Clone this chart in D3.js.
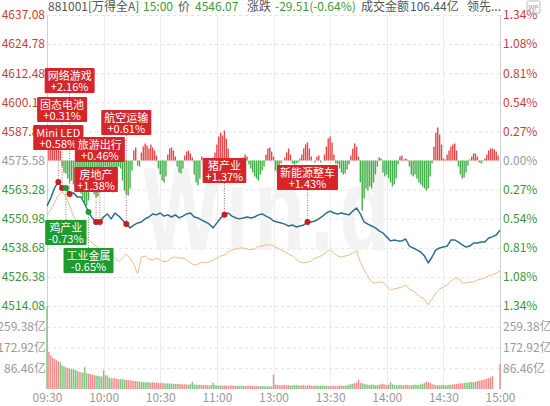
<!DOCTYPE html>
<html>
<head>
<meta charset="utf-8">
<script src="https://cdn.jsdelivr.net/npm/d3@7"></script>
<style>
  body { margin: 0; background: #fff; }
  svg text { font-family: "Noto Sans CJK SC", "Noto Sans", sans-serif; }
</style>
</head>
<body>
<svg id="chart" width="550" height="406"></svg>
<script>
// ---- data ----
var preClose = 4575.58;
var priceTicks = [4637.08, 4624.78, 4612.48, 4600.18, 4587.88, 4575.58, 4563.28, 4550.98, 4538.68, 4526.38, 4514.08];
var pctLabels = ["1.34%", "1.08%", "0.81%", "0.54%", "0.27%", "0.00%", "0.27%", "0.54%", "0.81%", "1.08%", "1.34%"];
var volTicks = [86.46, 172.92, 259.38];
var timeTicks = [0, 30, 60, 90, 120, 150, 180, 210, 240];
var timeLabels = ["09:30", "10:00", "10:30", "11:00", "13:00", "13:30", "14:00", "14:30", "15:00"];

// index price, one value every 2 minutes from 09:30
var price = [
  4556.4,4559.7,4564.0,4566.5,4564.0,4564.0,4561.4,4561.9,4560.2,4560.2,
  4557.2,4553.8,4551.3,4549.6,4549.6,4551.7,4553.0,4550.9,4553.4,4552.1,
  4550.4,4548.7,4547.1,4548.3,4549.2,4549.6,4550.9,4551.7,4553.0,4552.6,
  4553.4,4552.1,4552.6,4551.7,4552.6,4551.3,4552.1,4553.0,4553.4,4551.7,
  4551.3,4550.4,4549.6,4548.7,4547.1,4549.2,4551.3,4552.6,4553.4,4552.1,
  4551.3,4550.9,4551.3,4551.7,4551.3,4551.7,4552.6,4553.0,4552.1,4551.3,
  4550.0,4549.6,4549.2,4548.7,4547.9,4548.3,4547.5,4547.9,4548.3,4549.6,
  4549.6,4550.0,4550.9,4552.1,4553.4,4554.2,4553.4,4553.0,4553.4,4553.0,
  4552.6,4554.2,4555.5,4553.0,4549.6,4548.7,4547.9,4547.1,4545.8,4544.9,
  4543.3,4541.6,4542.0,4541.6,4541.6,4542.4,4539.4,4538.6,4537.8,4536.9,
  4535.2,4532.3,4534.8,4537.8,4538.6,4539.0,4539.4,4542.0,4542.0,4541.1,
  4539.9,4539.0,4539.4,4540.7,4540.7,4541.1,4541.1,4542.8,4543.3,4544.1,
  4546.07
];

// leading line (orange), one value every 2 minutes
var lead = [
  4552.5,4554.7,4557.6,4561.0,4562.3,4560.6,4556.4,4552.1,4549.6,4546.2,
  4543.7,4542.0,4540.7,4539.4,4538.2,4536.9,4536.1,4535.2,4534.4,4532.7,
  4534.4,4536.1,4534.4,4531.8,4527.6,4534.8,4535.2,4533.9,4533.5,4534.4,
  4533.5,4532.7,4533.1,4534.4,4534.8,4534.4,4534.4,4533.5,4532.3,4531.4,
  4531.8,4532.7,4532.3,4532.7,4533.5,4534.4,4535.2,4535.6,4536.9,4537.8,
  4538.2,4538.6,4538.6,4538.2,4537.8,4538.2,4539.4,4539.4,4539.9,4539.9,
  4539.4,4538.6,4537.8,4536.9,4536.1,4535.2,4533.9,4532.7,4532.3,4532.7,
  4533.1,4534.4,4534.8,4535.6,4536.9,4537.8,4536.5,4535.2,4534.8,4535.2,
  4535.6,4536.5,4537.3,4532.7,4529.3,4526.8,4524.2,4523.8,4524.2,4524.2,
  4522.5,4520.8,4521.3,4521.7,4522.1,4523.0,4521.3,4520.4,4519.2,4517.9,
  4517.0,4514.5,4517.0,4519.6,4521.3,4522.1,4523.0,4524.7,4525.9,4525.9,
  4523.8,4523.8,4524.2,4524.2,4525.1,4525.5,4525.9,4526.8,4527.2,4528.0,
  4528.9
];

// red / green strength bars around the zero line, one per minute
var flow = [
  0,12,14,14,13,12,12,10,-6,-12,
  -13,-18,-22,-20,-24,-28,-30,-28,-33,-38,
  -42,-45,-40,-30,-30,-34,-37,-36,-30,-18,
  -10,-6,-14,-24,-30,-32,-26,-12,-6,-8,
  -20,-30,-34,-35,-28,-10,10,13,-5,-6,
  8,14,17,15,12,16,13,10,5,-8,
  -14,-20,-22,-16,6,12,13,10,4,-6,
  -12,-13,-8,5,9,10,7,3,-14,-22,
  -25,-18,4,-6,-8,-10,-8,-4,3,8,
  16,24,28,25,30,22,12,-2,-3,-2,
  0,2,0,0,3,6,4,-4,-8,-12,
  -16,-18,-20,-14,-10,-6,6,12,13,9,
  4,-10,-12,-8,-3,0,3,8,12,6,
  -3,-4,-3,-2,2,6,12,16,18,12,
  4,0,-2,4,5,-2,0,6,14,22,
  24,18,6,-3,-4,-8,-12,-14,-13,-9,
  -4,5,12,17,14,4,-22,-50,-38,-28,
  -30,-26,-28,-22,-14,-6,3,2,-12,-16,
  -14,-18,-22,-26,-24,-18,-4,4,5,1,
  2,1,-6,-14,-16,-14,-18,-22,-24,-26,
  -28,-30,-28,-16,-3,14,28,33,26,16,
  2,1,6,10,14,16,17,10,-6,-14,
  -18,-17,-12,-5,1,4,7,7,4,-2,
  -3,-1,2,6,10,12,12,11,9,5,
  0
];

// turnover per minute, 亿
var volume = [
  345,155,140,130,125,120,115,112,98,95,
  90,88,85,84,82,80,76,72,70,68,
  91,66,64,62,60,58,56,55,53,52,
  78,58,56,47,45,44,46,42,41,40,
  42,39,38,37,36,35,34,33,32,30,
  30,29,28,29,28,27,28,26,27,26,
  25,26,24,23,24,22,23,22,21,22,
  21,20,19,20,19,18,20,30,19,18,
  17,18,17,16,17,16,15,16,26,16,
  15,14,15,14,15,14,13,14,15,14,
  13,14,13,14,13,12,13,14,13,12,
  13,12,11,12,13,12,11,12,10,11,
  60,18,18,16,15,16,17,15,16,14,
  15,16,17,15,14,16,15,14,15,16,
  14,13,15,14,13,14,15,13,14,13,
  12,14,13,12,13,14,15,13,14,16,
  18,20,22,24,26,39,26,24,22,20,
  18,17,19,18,17,16,18,20,22,19,
  17,18,30,20,17,16,15,17,16,15,
  18,17,16,15,17,18,16,17,19,22,
  24,30,28,26,20,18,17,16,15,17,
  16,15,16,18,17,19,20,21,22,24,
  23,25,26,27,28,29,28,30,33,35,
  36,38,40,43,45,48,54,0,0,0,
  104
];
// r = up minute, g = down minute
var volSide =
  "grrrrrrggg" + "rrgggggrrg" + "ggrrrrgggg" + "rrgggrrrrg" + "ggrrrrrrrg" + "gggggrrrrr" +
  "rrgggggggg" + "rrrrrggggg" + "grrrrrrggg" + "gggrrrrrrr" + "gggggrrrrr" + "rrrggggggr" +
  "rgrrrrrrrg" + "ggggrrrrrr" + "rrrggggggr" + "rrrrrrrggg" + "gggrrrrggg" + "gggggggrrr" +
  "rrggggggrr" + "rrrrgggggg" + "grrrrrrggg" + "gggggrrrrr" + "rggggggrrr" + "rrrrrrrrrr" + "r";

// sector tags on the price line
var tagNames = ["网络游戏", "固态电池", "Mini LED", "航空运输", "旅游出行", "房地产", "猪产业", "新能源整车", "鸡产业", "工业金属"];
var tagPcts = ["+2.16%", "+0.31%", "+0.58%", "+0.61%", "+0.46%", "+1.38%", "+1.37%", "+1.43%", "-0.73%", "-0.65%"];
var tagMinutes = [12, 8, 6, 42, 28, 26, 94, 138, 10, 22];

var header = [
  ["881001[万得全A]", "#555", 48], ["15:00", "#3d9a3d", 143], ["价", "#555", 178],
  ["4546.07", "#3d9a3d", 195], ["涨跌", "#555", 247], ["-29.51(-0.64%)", "#3d9a3d", 275],
  ["成交金额", "#555", 361], ["106.44亿", "#555", 410], ["领先...", "#555", 467]
];

// ---- layout ----
var tagTop = [68, 97, 125, 110, 137, 167, 158, 165, 220, 248];
var RED = "#c8403c", GREEN = "#3a963a", GRAY = "#9a9a9a";

var svg = d3.select("#chart");

var x = d3.scaleLinear().domain([0, 240]).range([47, 500]);
var y = d3.scaleLinear().domain([4514.08, 4637.08]).range([306, 15]);
var v = d3.scaleLinear().domain([0, 345.84]).range([389, 306]);
var y0 = y(preClose);
var flowY = d3.scaleLinear().domain([-50, 50]).range([y0 + 50, y0 - 50]);

// grid
var grid = svg.append("g");
grid.selectAll(".hg").data(priceTicks).enter().append("line")
  .attr("x1", 47).attr("x2", 500)
  .attr("y1", d => y(d) + 0.5).attr("y2", d => y(d) + 0.5)
  .attr("stroke", "#e2e2e2").attr("stroke-dasharray", "3,3");
grid.selectAll(".vg").data(volTicks).enter().append("line")
  .attr("x1", 47).attr("x2", 500)
  .attr("y1", d => v(d) + 0.5).attr("y2", d => v(d) + 0.5)
  .attr("stroke", "#e2e2e2").attr("stroke-dasharray", "3,3");
grid.selectAll(".tg").data(timeTicks).enter().append("line")
  .attr("x1", d => Math.round(x(d)) + 0.5).attr("x2", d => Math.round(x(d)) + 0.5)
  .attr("y1", 15).attr("y2", 389)
  .attr("stroke", d => (d === 0 || d === 240) ? "#d0d0d0" : "#ececec");

// watermark
svg.append("text")
  .attr("transform", "translate(143,250) scale(1,1.45)")
  .attr("font-size", 82).attr("font-weight", "bold")
  .style("font-family", "'Liberation Sans', Arial, sans-serif")
  .attr("fill", "#f3f3f3").attr("letter-spacing", 6)
  .text("Win.d");

// strength bars
svg.append("g").selectAll("rect").data(flow).enter().append("rect")
  .attr("x", (d, i) => x(i) - 0.7)
  .attr("width", 1.4)
  .attr("y", d => Math.min(flowY(d), y0))
  .attr("height", d => Math.abs(flowY(d) - y0))
  .attr("fill", d => d >= 0 ? "#e04a4a" : "#45b04a");

// volume bars
svg.append("g").selectAll("rect").data(volume).enter().append("rect")
  .attr("x", (d, i) => x(i) - 0.7)
  .attr("width", 1.4)
  .attr("y", d => v(d))
  .attr("height", d => v(0) - v(d))
  .attr("fill", (d, i) => volSide[i] === "g" ? "#7cc67c" : "#f08c8c");

// lines
var line = d3.line().x((d, i) => x(i * 2)).y(d => y(d));
svg.append("path").datum(lead).attr("d", line)
  .attr("fill", "none").attr("stroke", "#f0bc88").attr("stroke-width", 1);
svg.append("path").datum(price).attr("d", line)
  .attr("fill", "none").attr("stroke", "#2f6e8c").attr("stroke-width", 1.5)
  .attr("stroke-linejoin", "round");

// axes labels
var axL = d3.axisLeft(y).tickValues(priceTicks).tickSize(0).tickPadding(0).tickFormat(d3.format(".2f"));
var gl = svg.append("g").attr("transform", "translate(45,0)").call(axL);
var axR = d3.axisRight(y).tickValues(priceTicks).tickSize(0).tickPadding(0).tickFormat((d, i) => pctLabels[i]);
var gr = svg.append("g").attr("transform", "translate(503,0)").call(axR);
[gl, gr].forEach(function (g) {
  g.select(".domain").remove();
  g.selectAll("text").attr("font-size", 12)
    .attr("fill", d => d > preClose ? RED : d < preClose ? GREEN : GRAY);
});

var vl = svg.append("g").attr("transform", "translate(46,0)")
  .call(d3.axisLeft(v).tickValues(volTicks).tickSize(0).tickPadding(0).tickFormat(d => d.toFixed(2) + "亿"));
var vr = svg.append("g").attr("transform", "translate(503,0)")
  .call(d3.axisRight(v).tickValues(volTicks).tickSize(0).tickPadding(0).tickFormat(d => d.toFixed(2) + "亿"));
[vl, vr].forEach(function (g) {
  g.select(".domain").remove();
  g.selectAll("text").attr("font-size", 12).attr("fill", GRAY);
});

var gx = svg.append("g").attr("transform", "translate(0,389)")
  .call(d3.axisBottom(x).tickValues(timeTicks).tickSize(0).tickPadding(4).tickFormat((d, i) => timeLabels[i]));
gx.select(".domain").remove();
gx.selectAll("text").attr("font-size", 12).attr("fill", GRAY);

// header
var ht = svg.append("text").attr("y", 11).attr("font-size", 12);
header.forEach(function (h) {
  ht.append("tspan").attr("x", h[2]).attr("fill", h[1]).text(h[0]);
});
svg.append("rect").attr("x", 527).attr("y", 1).attr("width", 13).attr("height", 12)
  .attr("rx", 1.5).attr("fill", "none").attr("stroke", "#bbb");
svg.append("text").attr("x", 533.5).attr("y", 10).attr("font-size", 6.5)
  .attr("text-anchor", "middle").attr("fill", "#999").text("WP");

// tags
var tags = tagNames.map(function (n, i) {
  var up = tagPcts[i][0] === "+";
  return { name: n, pct: tagPcts[i], up: up, cx: x(tagMinutes[i]),
           cy: y(price[tagMinutes[i] / 2]), top: tagTop[i] };
});
var tg = svg.append("g");
tags.forEach(function (t) {
  var y1 = t.up ? t.top + 25 : t.top;
  tg.append("line").attr("x1", t.cx).attr("x2", t.cx).attr("y1", y1).attr("y2", t.cy)
    .attr("stroke", t.up ? "#d86a6a" : "#5aa85a").attr("stroke-width", 1)
    .attr("stroke-dasharray", "1,1.5");
});
tags.forEach(function (t) {
  tg.append("circle").attr("cx", t.cx).attr("cy", t.cy).attr("r", 3)
    .attr("fill", t.up ? "#c81e1e" : "#229a33");
});
tags.forEach(function (t) {
  var g = tg.append("g");
  var r = g.append("rect");
  var t1 = g.append("text").attr("x", t.cx).attr("y", t.top + 12).attr("font-size", 11)
    .attr("text-anchor", "middle").attr("fill", "#fff").text(t.name);
  var t2 = g.append("text").attr("x", t.cx).attr("y", t.top + 23).attr("font-size", 11)
    .attr("text-anchor", "middle").attr("fill", "#fff").text(t.pct);
  var w = Math.max(t1.node().getComputedTextLength(), t2.node().getComputedTextLength()) + 6;
  r.attr("x", t.cx - w / 2).attr("y", t.top).attr("width", w).attr("height", 25)
    .attr("rx", 1).attr("fill", t.up ? "#d6262b" : "#1e9a2e");
});
</script>
</body>
</html>
